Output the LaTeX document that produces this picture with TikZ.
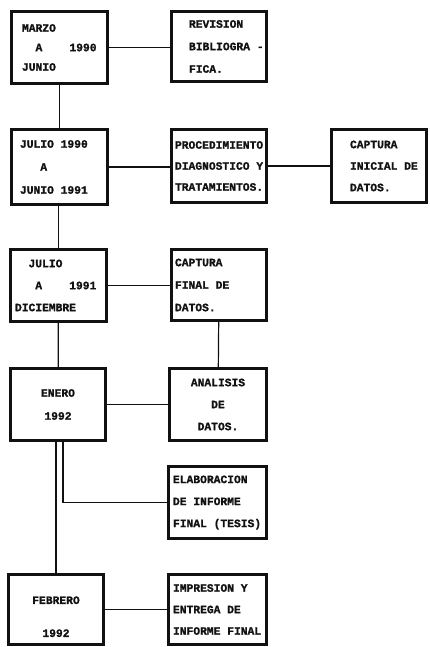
\documentclass[tikz,border=0pt]{standalone}
\usepackage{fontspec}
\usepackage{tikz}
\usetikzlibrary{positioning}
\newfontfamily\boxfont{Liberation Mono}[UprightFont=* Bold,FakeBold=1.2,HyphenChar=None]
\newcommand\pad[1]{\leavevmode\kern#1\fontcharwd\font`0\relax}
\definecolor{ink}{HTML}{111111}

\begin{document}
\begin{tikzpicture}[x=1pt,y=-1pt,
    stage/.style={draw=ink,text=ink,line width=2.6pt,inner ysep=0pt,align=left},
    linegap/.style={font=\boxfont\fontsize{11.3}{#1}\selectfont},
    wire/.style={draw=ink,line width=1.2pt}]
  \useasboundingbox (0,0) rectangle (430,647);
  % first row
  \node[stage,linegap=19.5,minimum width=96.4,minimum height=72.4,inner xsep=10.7,text width=75]
    (marzo) at (59.5,47.5) {MARZO\\\pad{2}A\pad{4}1990\\JUNIO};
  \node[stage,linegap=22.5,minimum width=95.4,minimum height=70.4,inner xsep=17.7,text width=60]
    (revision) at (219,46.5) {REVISION\\BIBLIOGRA\pad{1}-\\FICA.};
  % second row
  \node[stage,linegap=23,minimum width=96.4,minimum height=75.4,inner xsep=8.7,text width=79]
    (julio90) at (59.5,167) {JULIO\pad{1}1990\\\pad{3}A\\JUNIO\pad{1}1991};
  \node[stage,linegap=21,minimum width=95.4,minimum height=73.4,inner xsep=3.7,text width=88]
    (procedimiento) at (219,166) {PROCEDIMIENTO\\DIAGNOSTICO\pad{1}Y\\TRATAMIENTOS.};
  \node[stage,linegap=21.5,minimum width=95.4,minimum height=73.4,inner xsep=18.7,text width=58]
    (capinicial) at (379,166) {CAPTURA\\INICIAL\pad{1}DE\\DATOS.};
  % third row
  \node[stage,linegap=22,minimum width=96.4,minimum height=72.4,inner xsep=4.7,text width=87]
    (julio91) at (58.5,285.5) {\pad{2}JULIO\\\pad{3}A\pad{4}1991\\DICIEMBRE};
  \node[stage,linegap=22.5,minimum width=95.4,minimum height=71.4,inner xsep=3.7,text width=88]
    (capfinal) at (219,285) {CAPTURA\\FINAL\pad{1}DE\\DATOS.};
  % fourth row
  \node[stage,align=center,linegap=23,minimum width=95.4,minimum height=72.4,inner xsep=4,text width=87.4]
    (enero) at (58,404.5) {ENERO\\1992};
  \node[stage,align=center,linegap=22,minimum width=97.4,minimum height=72.4,inner xsep=4,text width=89.4]
    (analisis) at (218,404.5) {ANALISIS\\DE\\DATOS.};
  \node[stage,linegap=22,minimum width=98.4,minimum height=72.4,inner xsep=4.7,text width=89]
    (elaboracion) at (217.5,502.5) {ELABORACION\\DE\pad{1}INFORME\\FINAL\pad{1}(TESIS)};
  % last row
  \node[stage,align=center,linegap=33,minimum width=95.4,minimum height=70.4,inner xsep=4,text width=87.4]
    (febrero) at (56,609.5) {\rule{0pt}{22pt}FEBRERO\\1992};
  \node[stage,linegap=21.5,minimum width=98.4,minimum height=70.4,inner xsep=4.7,text width=89]
    (impresion) at (217.5,609.5) {IMPRESION\pad{1}Y\\ENTREGA\pad{1}DE\\INFORME\pad{1}FINAL};
  % connectors
  \draw[wire] (marzo.east) -- (marzo.east -| revision.west);
  \draw[wire] (marzo) -- (julio90);
  \draw[wire] (julio90.east) -- (julio90.east -| procedimiento.west);
  \draw[wire] (procedimiento) -- (capinicial);
  \draw[wire] (julio91.north) -- (julio91.north |- julio90.south);
  \draw[wire] (julio91.east) -- (julio91.east -| capfinal.west);
  \draw[wire] (julio91) -- (enero);
  \draw[wire] (capfinal) -- (analisis);
  \draw[wire] (enero.east) -- (enero.east -| analisis.west);
  \draw[wire] ([xshift=5pt]enero.south) |- (elaboracion.west);
  \draw[wire] (febrero.north) -- (febrero.north |- enero.south);
  \draw[wire] (febrero) -- (impresion);
\end{tikzpicture}
\end{document}
